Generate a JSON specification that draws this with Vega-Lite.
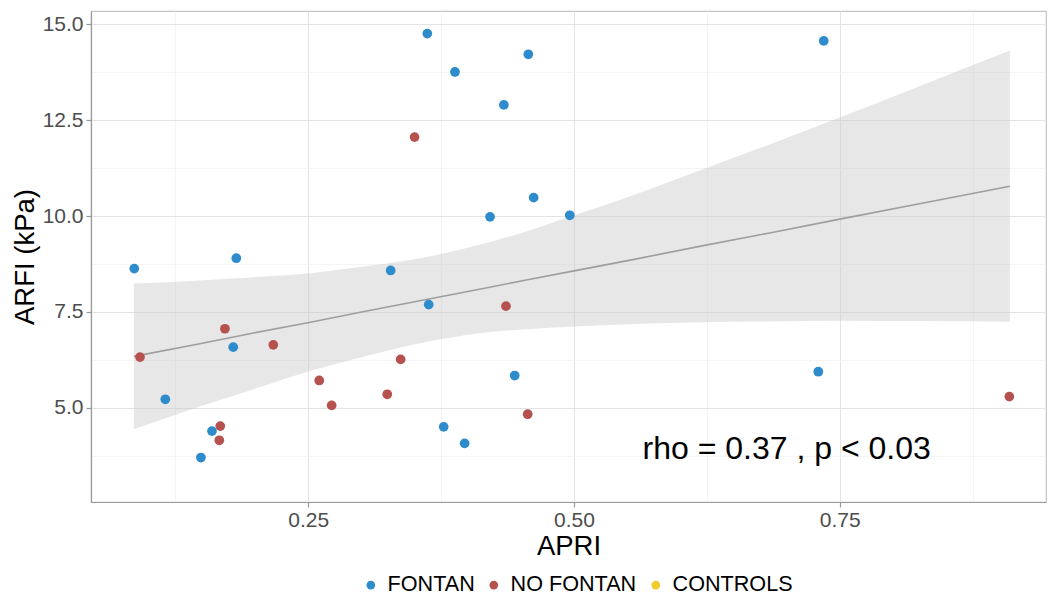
{
  "$schema": "https://vega.github.io/schema/vega-lite/v6.json",
  "width": 955,
  "height": 491,
  "autosize": {"type": "none"},
  "padding": {"left": 91, "top": 11, "right": 2, "bottom": 94},
  "background": "white",
  "config": {
    "font": "Liberation Sans",
    "view": {"stroke": "#C4C4C4", "strokeWidth": 1.2}
  },
  "datasets": {
    "points": [
      {"apri": 0.0863, "arfi": 8.63, "group": "FONTAN"},
      {"apri": 0.1823, "arfi": 8.90, "group": "FONTAN"},
      {"apri": 0.3275, "arfi": 8.58, "group": "FONTAN"},
      {"apri": 0.1794, "arfi": 6.58, "group": "FONTAN"},
      {"apri": 0.1155, "arfi": 5.22, "group": "FONTAN"},
      {"apri": 0.1594, "arfi": 4.39, "group": "FONTAN"},
      {"apri": 0.1490, "arfi": 3.70, "group": "FONTAN"},
      {"apri": 0.3620, "arfi": 14.76, "group": "FONTAN"},
      {"apri": 0.4570, "arfi": 14.22, "group": "FONTAN"},
      {"apri": 0.3880, "arfi": 13.76, "group": "FONTAN"},
      {"apri": 0.4340, "arfi": 12.90, "group": "FONTAN"},
      {"apri": 0.4620, "arfi": 10.48, "group": "FONTAN"},
      {"apri": 0.4210, "arfi": 9.98, "group": "FONTAN"},
      {"apri": 0.4960, "arfi": 10.02, "group": "FONTAN"},
      {"apri": 0.3633, "arfi": 7.69, "group": "FONTAN"},
      {"apri": 0.4442, "arfi": 5.84, "group": "FONTAN"},
      {"apri": 0.3774, "arfi": 4.50, "group": "FONTAN"},
      {"apri": 0.3971, "arfi": 4.07, "group": "FONTAN"},
      {"apri": 0.7349, "arfi": 14.57, "group": "FONTAN"},
      {"apri": 0.7298, "arfi": 5.94, "group": "FONTAN"},
      {"apri": 0.0917, "arfi": 6.32, "group": "NO FONTAN"},
      {"apri": 0.1716, "arfi": 7.06, "group": "NO FONTAN"},
      {"apri": 0.2171, "arfi": 6.64, "group": "NO FONTAN"},
      {"apri": 0.1672, "arfi": 4.52, "group": "NO FONTAN"},
      {"apri": 0.1663, "arfi": 4.15, "group": "NO FONTAN"},
      {"apri": 0.2603, "arfi": 5.71, "group": "NO FONTAN"},
      {"apri": 0.2720, "arfi": 5.06, "group": "NO FONTAN"},
      {"apri": 0.3500, "arfi": 12.06, "group": "NO FONTAN"},
      {"apri": 0.4360, "arfi": 7.65, "group": "NO FONTAN"},
      {"apri": 0.3369, "arfi": 6.26, "group": "NO FONTAN"},
      {"apri": 0.3243, "arfi": 5.35, "group": "NO FONTAN"},
      {"apri": 0.4564, "arfi": 4.83, "group": "NO FONTAN"},
      {"apri": 0.9095, "arfi": 5.29, "group": "NO FONTAN"}
    ],
    "band": [
      {"apri": 0.086, "fit": 6.34, "hi": 8.24, "lo": 4.44},
      {"apri": 0.148, "fit": 6.67, "hi": 8.32, "lo": 5.03},
      {"apri": 0.195, "fit": 6.93, "hi": 8.40, "lo": 5.45},
      {"apri": 0.252, "fit": 7.23, "hi": 8.51, "lo": 5.96},
      {"apri": 0.299, "fit": 7.49, "hi": 8.67, "lo": 6.31},
      {"apri": 0.355, "fit": 7.79, "hi": 8.90, "lo": 6.68},
      {"apri": 0.411, "fit": 8.09, "hi": 9.25, "lo": 6.94},
      {"apri": 0.455, "fit": 8.33, "hi": 9.60, "lo": 7.05},
      {"apri": 0.500, "fit": 8.57, "hi": 10.02, "lo": 7.12},
      {"apri": 0.553, "fit": 8.85, "hi": 10.52, "lo": 7.18},
      {"apri": 0.618, "fit": 9.21, "hi": 11.19, "lo": 7.23},
      {"apri": 0.684, "fit": 9.56, "hi": 11.87, "lo": 7.25},
      {"apri": 0.750, "fit": 9.92, "hi": 12.57, "lo": 7.27},
      {"apri": 0.825, "fit": 10.32, "hi": 13.39, "lo": 7.26},
      {"apri": 0.910, "fit": 10.78, "hi": 14.32, "lo": 7.24}
    ],
    "note": [
      {"apri": 0.70, "arfi": 3.67, "label": "rho = 0.37 , p < 0.03"}
    ]
  },
  "layer": [
    {
      "data": {"name": "band"},
      "mark": {"type": "area", "color": "#C4C4C4", "opacity": 0.4, "interpolate": "monotone"},
      "encoding": {
        "x": {"field": "apri", "type": "quantitative",
              "scale": {"domain": [0.0456, 0.944], "nice": false, "zero": false},
              "axis": {"orient": "top", "values": [0.125, 0.375, 0.625, 0.875], "labels": false, "ticks": false, "domain": false, "grid": true, "gridColor": "#F1F1F1", "gridWidth": 0.8, "title": null}},
        "y": {"field": "hi", "type": "quantitative",
              "scale": {"domain": [2.54, 15.35], "nice": false, "zero": false},
              "axis": {"orient": "right", "values": [3.75, 6.25, 8.75, 11.25, 13.75], "labels": false, "ticks": false, "domain": false, "grid": true, "gridColor": "#F1F1F1", "gridWidth": 0.8, "title": null}},
        "y2": {"field": "lo"}
      }
    },
    {
      "data": {"name": "band"},
      "mark": {"type": "line", "color": "#9E9E9E", "strokeWidth": 1.6},
      "encoding": {
        "x": {"field": "apri", "type": "quantitative", "axis": null},
        "y": {"field": "fit", "type": "quantitative", "axis": null}
      }
    },
    {
      "data": {"name": "points"},
      "mark": {"type": "circle", "size": 95, "opacity": 1},
      "encoding": {
        "x": {"field": "apri", "type": "quantitative",
              "axis": {"orient": "bottom", "values": [0.25, 0.5, 0.75], "format": ".2f", "grid": true, "gridColor": "#E4E4E4", "gridWidth": 1,
                       "domainColor": "#9A9A9A", "domainWidth": 1.2, "tickColor": "#9A9A9A", "tickSize": 5, "tickWidth": 1.2,
                       "labelFontSize": 21, "labelColor": "#4D4D4D", "labelPadding": 2,
                       "title": "APRI", "titleFontSize": 27.5, "titleFontWeight": "normal", "titleColor": "#000000", "titlePadding": 2}},
        "y": {"field": "arfi", "type": "quantitative",
              "axis": {"orient": "left", "values": [5, 7.5, 10, 12.5, 15], "format": ".1f", "grid": true, "gridColor": "#E4E4E4", "gridWidth": 1,
                       "domainColor": "#9A9A9A", "domainWidth": 1.2, "tickColor": "#9A9A9A", "tickSize": 5, "tickWidth": 1.2,
                       "labelFontSize": 21, "labelColor": "#4D4D4D", "labelPadding": 3,
                       "title": "ARFI (kPa)", "titleFontSize": 27.5, "titleFontWeight": "normal", "titleColor": "#000000", "titlePadding": 3}},
        "color": {"field": "group", "type": "nominal",
                  "scale": {"domain": ["FONTAN", "NO FONTAN", "CONTROLS"], "range": ["#2E8BCC", "#B5514E", "#F0CB2C"]},
                  "legend": {"orient": "none", "legendX": 269, "legendY": 563, "direction": "horizontal", "title": null,
                             "symbolType": "circle", "symbolSize": 75, "symbolStrokeWidth": 0, "symbolOpacity": 1,
                             "labelFontSize": 21.6, "labelColor": "#000000", "labelOffset": 6, "columnPadding": 8}}
      }
    },
    {
      "data": {"name": "note"},
      "mark": {"type": "text", "fontSize": 32, "color": "#000000", "align": "center", "baseline": "alphabetic"},
      "encoding": {
        "x": {"field": "apri", "type": "quantitative", "axis": null},
        "y": {"field": "arfi", "type": "quantitative", "axis": null},
        "text": {"field": "label"}
      }
    }
  ],
  "resolve": {"axis": {"x": "independent", "y": "independent"}}
}
